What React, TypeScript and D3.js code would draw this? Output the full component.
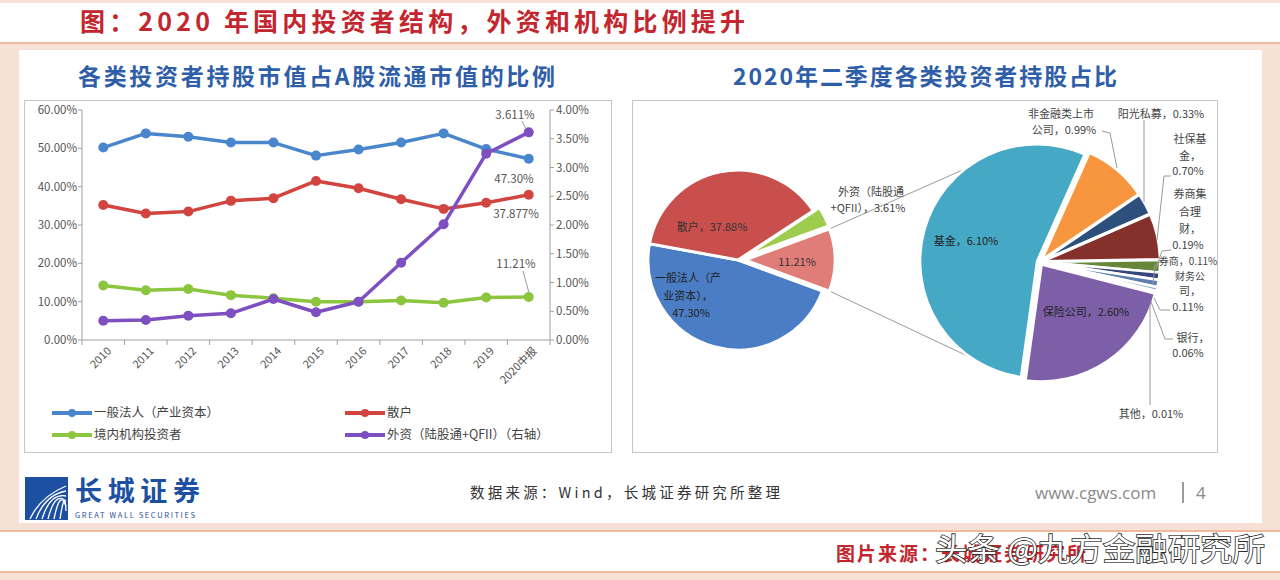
import React from "react";
import * as d3 from "d3";

const years = ["2010", "2011", "2012", "2013", "2014", "2015", "2016", "2017", "2018", "2019", "2020中报"];
const corpShare = [50.2, 53.9, 53.0, 51.5, 51.5, 48.1, 49.7, 51.5, 53.9, 49.8, 47.3];
const retailShare = [35.2, 33.0, 33.5, 36.3, 37.0, 41.5, 39.6, 36.7, 34.2, 35.8, 37.877];
const domesticShare = [14.2, 13.0, 13.3, 11.7, 10.9, 10.0, 10.0, 10.3, 9.7, 11.1, 11.21];
const foreignShare = [0.336, 0.348, 0.423, 0.464, 0.713, 0.482, 0.666, 1.344, 2.012, 3.24, 3.611];
const leftTicks = [0, 10, 20, 30, 40, 50, 60];
const rightTicks = [0, 0.5, 1, 1.5, 2, 2.5, 3, 3.5, 4];
const seriesNames = ["一般法人（产业资本）", "散户", "境内机构投资者", "外资（陆股通+QFII）（右轴）"];

const pieNames = ["境内机构投资者", "一般法人（产业资本）", "散户", "外资（陆股通+QFII）"];
const pieValues = [11.21, 47.3, 37.88, 3.61];

const subNames = ["非金融类上市公司", "阳光私募", "社保基金", "券商集合理财", "券商", "财务公司", "银行", "其他", "保险公司", "基金"];
const subValues = [0.99, 0.33, 0.7, 0.19, 0.11, 0.11, 0.06, 0.01, 2.6, 6.1];

const FONT = "'Noto Sans CJK SC', 'Noto Sans', sans-serif";
const C_BLUE = "#4a86cc";
const C_RED = "#d2443f";
const C_GREEN = "#8cc63e";
const C_PURPLE = "#7d4fc1";

const pieColors = ["#e07d79", "#4a7dc4", "#c84f4c", "#9dcc4e"];
const subColors = ["#f7963f", "#2d4f7b", "#86302c", "#66873a", "#35467a", "#5d7fae", "#8aa6c8", "#c8c8c8", "#7d5fa8", "#45a9c6"];

const rad = (deg: number) => (deg * Math.PI) / 180;

export default function App() {
  const W = 1280, H = 580;
  // left line chart
  const x = d3.scaleBand<string>().domain(years).range([82, 550]).paddingInner(0).paddingOuter(0);
  const bw = x.bandwidth();
  const cx = (i: number) => (x(years[i]) as number) + bw / 2;
  const yL = d3.scaleLinear().domain([0, 60]).range([340, 110]);
  const yR = d3.scaleLinear().domain([0, 4]).range([340, 110]);
  const lineL = d3.line<number>().x((_, i) => cx(i)).y((d) => yL(d));
  const lineR = d3.line<number>().x((_, i) => cx(i)).y((d) => yR(d));
  const series = [
    { vals: corpShare, color: C_BLUE, gen: lineL, sc: yL },
    { vals: retailShare, color: C_RED, gen: lineL, sc: yL },
    { vals: domesticShare, color: C_GREEN, gen: lineL, sc: yL },
    { vals: foreignShare, color: C_PURPLE, gen: lineR, sc: yR },
  ];
  const last = years.length - 1;

  // left pie
  const p1c = [738, 260];
  const p1r = 90;
  const pinkSpan = (pieValues[0] / d3.sum(pieValues)) * 2 * Math.PI;
  const pie1 = d3.pie<number>().sort(null).value((d) => d).startAngle(Math.PI / 2 - pinkSpan / 2).endAngle(Math.PI / 2 - pinkSpan / 2 + 2 * Math.PI);
  const arcs1 = pie1(pieValues);
  const arc1 = d3.arc<d3.PieArcDatum<number>>().innerRadius(0).outerRadius(p1r);
  const explode1 = [7, 0, 0, 7];
  const off = (a: d3.PieArcDatum<number>, d: number) => {
    const m = (a.startAngle + a.endAngle) / 2;
    return [Math.sin(m) * d, -Math.cos(m) * d];
  };

  // right pie
  const p2c = [1040, 262];
  const p2r = 117;
  const pie2 = d3.pie<number>().sort(null).value((d) => d).startAngle(rad(24)).endAngle(rad(24) + 2 * Math.PI);
  const arcs2 = pie2(subValues);
  const arc2 = d3.arc<d3.PieArcDatum<number>>().innerRadius(0).outerRadius(p2r);

  // connectors
  const pinkArc = arcs1[0];
  const po = off(pinkArc, explode1[0]);
  const pt = (c: number[], r: number, a: number, o = [0, 0]) => [c[0] + o[0] + Math.sin(a) * r, c[1] + o[1] - Math.cos(a) * r];
  const c1a = pt(p1c, p1r, pinkArc.startAngle, po);
  const c1b = pt(p1c, p1r, pinkArc.endAngle, po);
  const c2a = pt(p2c, p2r, rad(327));
  const c2b = pt(p2c, p2r, rad(213));

  const tickFmt = (v: number) => v.toFixed(2) + "%";

  return (
    <svg width={W} height={H} style={{ position: "absolute", left: 0, top: 0, fontFamily: FONT }}>
      {/* background frame */}
      <rect x={0} y={0} width={W} height={H} fill="#f7e1d7" />
      <rect x={0} y={3} width={W} height={39} fill="#ffffff" />
      <line x1={0} x2={W} y1={43} y2={43} stroke="#f0b99c" strokeWidth={2} />
      <rect x={19} y={50} width={1243} height={473} fill="#ffffff" />
      <line x1={0} x2={W} y1={531} y2={531} stroke="#f0b99c" strokeWidth={2} />
      <rect x={0} y={532} width={W} height={39} fill="#ffffff" />
      <line x1={0} x2={W} y1={572} y2={572} stroke="#f0b99c" strokeWidth={2} />

      {/* top title */}
      <text x={80} y={31} fontSize={25} fontWeight={700} fill="#c3262e" textLength={665} lengthAdjust="spacing">
        图：2020 年国内投资者结构，外资和机构比例提升
      </text>

      {/* chart titles */}
      <text x={78} y={85} fontSize={23} fontWeight={700} fill="#2f5ea8" textLength={477} lengthAdjust="spacing">
        各类投资者持股市值占A股流通市值的比例
      </text>
      <text x={733} y={85} fontSize={23} fontWeight={700} fill="#2f5ea8" textLength={384} lengthAdjust="spacing">
        2020年二季度各类投资者持股占比
      </text>

      {/* boxes */}
      <rect x={24.5} y={100.5} width={587} height={352} fill="none" stroke="#c6c6c6" strokeWidth={1} />
      <rect x={632.5} y={100.5} width={585} height={352} fill="none" stroke="#c6c6c6" strokeWidth={1} />

      {/* axes */}
      <line x1={82} x2={82} y1={110} y2={340} stroke="#a0a0a0" />
      <line x1={550} x2={550} y1={110} y2={340} stroke="#a0a0a0" />
      <line x1={82} x2={550} y1={340} y2={340} stroke="#a0a0a0" />
      {leftTicks.map((t) => (
        <g key={"l" + t}>
          <line x1={78} x2={82} y1={yL(t)} y2={yL(t)} stroke="#a0a0a0" />
          <text x={77} y={yL(t)} dy="0.35em" textAnchor="end" fontSize={11.5} fill="#555">{tickFmt(t)}</text>
        </g>
      ))}
      {rightTicks.map((t) => (
        <g key={"r" + t}>
          <line x1={550} x2={554} y1={yR(t)} y2={yR(t)} stroke="#a0a0a0" />
          <text x={556} y={yR(t)} dy="0.35em" textAnchor="start" fontSize={11.5} fill="#555">{tickFmt(t)}</text>
        </g>
      ))}
      {years.map((yv, i) => (
        <g key={yv}>
          <line x1={x(yv) as number} x2={x(yv) as number} y1={340} y2={345} stroke="#a0a0a0" />
          <text transform={`translate(${cx(i) + 6},${349}) rotate(-45)`} textAnchor="end" dy="0.35em" fontSize={11} fill="#555">{yv}</text>
        </g>
      ))}
      <line x1={550} x2={550} y1={340} y2={345} stroke="#a0a0a0" />

      {/* lines */}
      {series.map((s, k) => (
        <g key={"s" + k}>
          <path d={s.gen(s.vals) as string} fill="none" stroke={s.color} strokeWidth={3.5} strokeLinejoin="round" />
          {s.vals.map((v, i) => (
            <circle key={i} cx={cx(i)} cy={s.sc(v)} r={5} fill={s.color} />
          ))}
        </g>
      ))}

      {/* data labels */}
      <text x={515} y={115} dy="0.35em" textAnchor="middle" fontSize={11.5} fill="#555">3.611%</text>
      <line x1={522} x2={cx(last) - 3} y1={121} y2={yR(foreignShare[last]) - 4} stroke="#999" />
      <text x={514} y={179} dy="0.35em" textAnchor="middle" fontSize={11.5} fill="#555">47.30%</text>
      <text x={516} y={214} dy="0.35em" textAnchor="middle" fontSize={11.5} fill="#555">37.877%</text>
      <text x={516} y={264} dy="0.35em" textAnchor="middle" fontSize={11.5} fill="#555">11.21%</text>
      <line x1={523} x2={cx(last)} y1={271} y2={yL(domesticShare[last]) - 5} stroke="#999" />

      {/* legend */}
      {seriesNames.map((n, k) => {
        const lx = k % 2 === 0 ? 52 : 345;
        const ly = k < 2 ? 413 : 435;
        const col = series[k].color;
        return (
          <g key={n}>
            <line x1={lx} x2={lx + 40} y1={ly} y2={ly} stroke={col} strokeWidth={4} />
            <circle cx={lx + 20} cy={ly} r={4} fill={col} />
            <text x={lx + 42} y={ly} dy="0.35em" fontSize={12.5} fill="#444">{n}</text>
          </g>
        );
      })}

      {/* connector lines */}
      <line x1={c1a[0]} y1={c1a[1]} x2={c2a[0]} y2={c2a[1]} stroke="#9a9a9a" strokeWidth={1} />
      <line x1={c1b[0]} y1={c1b[1]} x2={c2b[0]} y2={c2b[1]} stroke="#9a9a9a" strokeWidth={1} />

      {/* left pie */}
      {arcs1.map((a, i) => {
        const o = off(a, explode1[i]);
        return (
          <path key={pieNames[i]} d={arc1(a) as string} transform={`translate(${p1c[0] + o[0]},${p1c[1] + o[1]})`} fill={pieColors[i]} stroke="#fff" strokeWidth={3} />
        );
      })}
      <text x={712} y={227} dy="0.35em" textAnchor="middle" fontSize={11} fill="#333">散户，37.88%</text>
      <text x={797} y={262} dy="0.35em" textAnchor="middle" fontSize={11} fill="#333">11.21%</text>
      <text x={688} y={278} dy="0.35em" textAnchor="middle" fontSize={11} fill="#222">一般法人（产</text>
      <text x={688} y={296} dy="0.35em" textAnchor="middle" fontSize={11} fill="#222">业资本），</text>
      <text x={691} y={313} dy="0.35em" textAnchor="middle" fontSize={11} fill="#222">47.30%</text>
      <text x={871} y={192} dy="0.35em" textAnchor="middle" fontSize={11} fill="#444">外资（陆股通</text>
      <text x={868} y={208} dy="0.35em" textAnchor="middle" fontSize={11} fill="#444">+QFII），3.61%</text>

      {/* right pie */}
      {arcs2.map((a, i) => {
        const o = off(a, 3);
        return (
          <path key={subNames[i]} d={arc2(a) as string} transform={`translate(${p2c[0] + o[0]},${p2c[1] + o[1]})`} fill={subColors[i]} stroke="#fff" strokeWidth={2.5} />
        );
      })}
      <text x={966} y={241} dy="0.35em" textAnchor="middle" fontSize={11} fill="#222">基金，6.10%</text>
      <text x={1086} y={312} dy="0.35em" textAnchor="middle" fontSize={11} fill="#222">保险公司，2.60%</text>

      {/* outside labels of right pie */}
      <g fontSize={11} fill="#444" textAnchor="middle">
        <text x={1061} y={114} dy="0.35em">非金融类上市</text>
        <text x={1064} y={130} dy="0.35em">公司，0.99%</text>
        <text x={1161} y={114} dy="0.35em">阳光私募，0.33%</text>
        <text x={1190} y={139} dy="0.35em">社保基</text>
        <text x={1190} y={156} dy="0.35em">金，</text>
        <text x={1188} y={171} dy="0.35em">0.70%</text>
        <text x={1190} y={194} dy="0.35em">券商集</text>
        <text x={1190} y={212} dy="0.35em">合理</text>
        <text x={1190} y={229} dy="0.35em">财，</text>
        <text x={1188} y={245} dy="0.35em">0.19%</text>
        <text x={1188} y={261} dy="0.35em" fontSize={10}>券商，0.11%</text>
        <text x={1190} y={276} dy="0.35em" fontSize={10}>财务公</text>
        <text x={1190} y={291} dy="0.35em">司，</text>
        <text x={1188} y={307} dy="0.35em">0.11%</text>
        <text x={1193} y={338} dy="0.35em">银行，</text>
        <text x={1188} y={353} dy="0.35em">0.06%</text>
        <text x={1151} y={414} dy="0.35em">其他，0.01%</text>
      </g>
      <g fill="none" stroke="#9a9a9a" strokeWidth={1}>
        <polyline points="1102,131 1110,133 1117,168" />
        <polyline points="1144,120 1144,202" />
        <polyline points="1171,176 1164,176 1157,240" />
        <polyline points="1171,250 1162,251 1156,268" />
        <polyline points="1160,262 1155,265 1153,284" />
        <polyline points="1170,310 1160,310 1154,298" />
        <polyline points="1173,339 1165,339 1151,302" />
        <polyline points="1150,304 1150,405" />
      </g>

      {/* footer */}
      <rect x={25} y={477} width={43} height={43} fill="#1d50a0" />
      {[0, 1, 2, 3, 4, 5].map((k) => (
        <path key={k} d={`M${30 + k * 6},${519} Q${40 + k * 5},${497 - k * 2} ${66},${486 + k * 5}`} fill="none" stroke="#fff" strokeWidth={1.3} />
      ))}
      <text x={75} y={501} fontSize={27} fontWeight={700} fill="#1d50a0" textLength={125} lengthAdjust="spacing">长城证券</text>
      <text x={75} y={518} fontSize={7.5} fill="#1d50a0" textLength={120} lengthAdjust="spacing">GREAT WALL SECURITIES</text>
      <text x={470} y={498} fontSize={14.5} fill="#333" textLength={310} lengthAdjust="spacing">数据来源：Wind，长城证券研究所整理</text>
      <text x={1035} y={499} fontSize={17} fill="#8a8a8a" fontFamily="'Open Sans', sans-serif">www.cgws.com</text>
      <line x1={1183} x2={1183} y1={482} y2={503} stroke="#9a9a9a" strokeWidth={2} />
      <text x={1196} y={499} fontSize={17} fill="#8a8a8a" fontFamily="'Open Sans', sans-serif">4</text>

      <text x={836} y={561} fontSize={19} fontWeight={700} fill="#c3262e" textLength={250} lengthAdjust="spacing">图片来源：长城证券研究所</text>
      <text x={935} y={560} fontSize={31} fill="#ffffff" stroke="#2a2a2a" strokeWidth={1.6} paintOrder="stroke" textLength={330} lengthAdjust="spacingAndGlyphs">头条 @九方金融研究所</text>
    </svg>
  );
}
